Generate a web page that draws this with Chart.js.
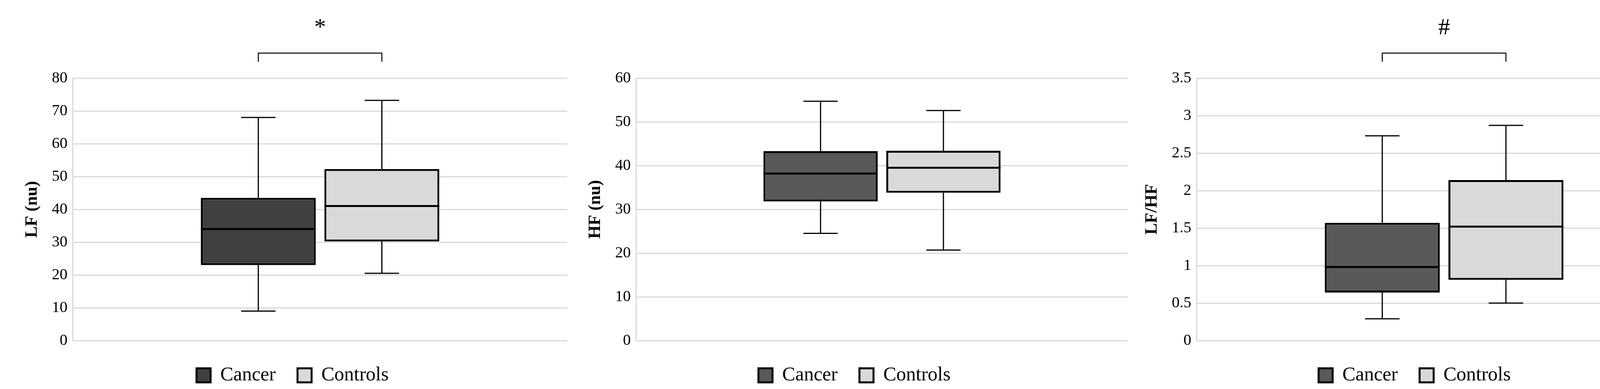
<!DOCTYPE html>
<html>
<head>
<meta charset="utf-8">
<script src="https://cdn.jsdelivr.net/npm/chart.js@4"></script>
<style>
  body { margin: 0; background: #fff; }
  .panel { position: absolute; top: 0; height: 996px; }
</style>
</head>
<body>
<div class="panel" style="left:0"><canvas id="c1" width="1452" height="996"></canvas></div>
<div class="panel" style="left:1452px"><canvas id="c2" width="1435" height="996"></canvas></div>
<div class="panel" style="left:2887px"><canvas id="c3" width="1443" height="996"></canvas></div>
<script>
// box stats: [min, q1, median, q3, max]
const groups = ['Cancer', 'Controls'];
const lfCancer = [9, 23, 34, 43.5, 68];
const lfControls = [20.5, 30.2, 41, 52.3, 73.2];
const hfCancer = [24.5, 31.8, 38.2, 43.3, 54.7];
const hfControls = [20.7, 33.8, 39.5, 43.4, 52.6];
const ratioCancer = [0.29, 0.64, 0.98, 1.57, 2.73];
const ratioControls = [0.5, 0.81, 1.52, 2.14, 2.87];

const FONT = "'Liberation Serif', serif";

const boxPlugin = {
  id: 'boxes',
  afterDatasetsDraw(chart) {
    const ctx = chart.ctx;
    const y = chart.scales.y;
    const centers = [];
    chart.data.datasets.forEach((ds, i) => {
      const el = chart.getDatasetMeta(i).data[0];
      const s = ds.stats;
      const cx = el.x, half = el.width / 2, cap = el.width * 0.15;
      centers.push(cx);
      ctx.save();
      ctx.strokeStyle = '#000';
      ctx.lineWidth = 3;
      ctx.beginPath();
      ctx.moveTo(cx, y.getPixelForValue(s[3])); ctx.lineTo(cx, y.getPixelForValue(s[4]));
      ctx.moveTo(cx - cap, y.getPixelForValue(s[4])); ctx.lineTo(cx + cap, y.getPixelForValue(s[4]));
      ctx.moveTo(cx, y.getPixelForValue(s[1])); ctx.lineTo(cx, y.getPixelForValue(s[0]));
      ctx.moveTo(cx - cap, y.getPixelForValue(s[0])); ctx.lineTo(cx + cap, y.getPixelForValue(s[0]));
      ctx.stroke();
      ctx.lineWidth = 5;
      ctx.beginPath();
      ctx.moveTo(cx - half, y.getPixelForValue(s[2])); ctx.lineTo(cx + half, y.getPixelForValue(s[2]));
      ctx.stroke();
      ctx.restore();
    });
    const sig = chart.options.plugins.boxes.sig;
    if (sig) {
      ctx.save();
      ctx.strokeStyle = '#000';
      ctx.lineWidth = 2.5;
      ctx.beginPath();
      ctx.moveTo(centers[0], 158); ctx.lineTo(centers[0], 136);
      ctx.lineTo(centers[1], 136); ctx.lineTo(centers[1], 158);
      ctx.stroke();
      ctx.fillStyle = '#000';
      ctx.font = '60px ' + FONT;
      ctx.textAlign = 'center';
      ctx.textBaseline = 'middle';
      ctx.fillText(sig, (centers[0] + centers[1]) / 2, 72);
      ctx.restore();
    }
  }
};

function makeChart(id, title, cancer, controls, cancerColor, max, step, sig, leftPad) {
  new Chart(document.getElementById(id), {
    type: 'bar',
    data: {
      labels: [''],
      datasets: [
        { label: groups[0], data: [[cancer[1], cancer[3]]], stats: cancer,
          backgroundColor: cancerColor, borderColor: '#000', borderWidth: 5, borderSkipped: false },
        { label: groups[1], data: [[controls[1], controls[3]]], stats: controls,
          backgroundColor: '#d9d9d9', borderColor: '#000', borderWidth: 5, borderSkipped: false }
      ]
    },
    options: {
      responsive: false,
      animation: false,
      categoryPercentage: 0.5,
      barPercentage: 0.93,
      layout: { padding: { top: 200, left: leftPad, right: 0, bottom: 0 } },
      scales: {
        x: { grid: { display: false }, border: { display: false }, ticks: { display: false } },
        y: {
          min: 0, max: max,
          ticks: { stepSize: step, color: '#000', font: { family: FONT, size: 40 }, padding: 14,
                   callback: v => String(v) },
          grid: { color: '#d9d9d9', lineWidth: 3, drawTicks: false },
          border: { color: '#d9d9d9', width: 3 },
          title: { display: true, text: title, color: '#000', font: { family: FONT, size: 44, weight: 'bold' }, padding: 10 }
        }
      },
      plugins: {
        boxes: { sig: sig },
        tooltip: { enabled: false },
        legend: {
          position: 'bottom',
          labels: { color: '#000', font: { family: FONT, size: 50 }, boxWidth: 36, boxHeight: 36, padding: 56 }
        }
      }
    },
    plugins: [boxPlugin]
  });
}

makeChart('c1', 'LF (nu)', lfCancer, lfControls, '#404040', 80, 10, '*', 46);
makeChart('c2', 'HF (nu)', hfCancer, hfControls, '#595959', 60, 10, null, 36);
makeChart('c3', 'LF/HF', ratioCancer, ratioControls, '#595959', 3.5, 0.5, '#', 26);
</script>
</body>
</html>
